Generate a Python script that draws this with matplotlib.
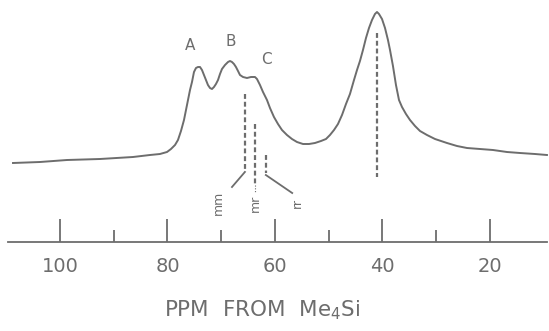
import matplotlib
matplotlib.use("Agg")
import matplotlib.pyplot as plt
import matplotlib.ticker as ticker

# 13C spectrum trace (ppm, relative intensity)
ppm = [108.74, 103.72, 98.70, 92.56, 86.42, 83.26, 81.40, 80.09, 79.35, 78.60,
       78.05, 77.49, 76.93, 76.37, 75.81, 75.44, 75.07, 74.70, 74.33, 73.95,
       73.58, 73.21, 72.84, 72.47, 72.09, 71.72, 71.35, 70.98, 70.60, 70.23,
       69.86, 69.30, 68.74, 68.37, 68.00, 67.63, 67.26, 66.88, 66.51, 65.95,
       65.21, 64.47, 63.72, 63.35, 62.79, 62.23, 61.49, 60.93, 60.19, 59.44,
       58.70, 57.77, 56.84, 55.91, 54.79, 53.67, 52.56, 51.44, 50.51, 49.77,
       49.02, 48.28, 47.53, 46.79, 46.05, 45.30, 44.74, 44.19, 43.63, 43.07,
       42.51, 41.95, 41.40, 41.02, 40.65, 40.09, 39.53, 38.98, 38.60, 38.05,
       37.49, 36.93, 36.37, 35.63, 34.88, 33.95, 33.02, 31.72, 30.23, 28.00,
       26.14, 24.28, 21.86, 19.44, 16.84, 14.42, 11.63, 9.40]
intensity = [0, 1, 3, 4, 6, 8, 9, 11, 14, 18,
             23, 32, 43, 58, 73, 81, 91, 95, 96, 96,
             93, 88, 83, 78, 75, 74, 76, 79, 83, 89,
             94, 98, 101, 102, 101, 99, 96, 92, 88, 86,
             85, 86, 86, 84, 78, 71, 63, 55, 46, 39,
             33, 28, 24, 21, 19, 19, 20, 22, 24, 28,
             33, 39, 48, 59, 69, 83, 93, 102, 113, 125,
             135, 143, 149, 151, 149, 144, 135, 123, 113, 97,
             78, 63, 56, 49, 43, 37, 32, 28, 24, 20,
             17, 15, 14, 13, 11, 10, 9, 8]

# peak assignments
peak_labels = ["A", "B", "C"]
peak_ppm = [75.8, 68.2, 61.5]
peak_y = [117, 122, 104]

# triad positions
triads = ["mm", "mr", "rr"]
triad_ppm = [65.6, 63.7, 61.7]
triad_top = [69, 39, 8]
triad_bottom = [-9, -22, -10]
triad_text_ppm = [70.6, 63.7, 55.9]

ch2_ppm = 41.0
ch2_top = 130
ch2_bottom = -14

major_ticks = [100, 80, 60, 40, 20]
minor_ticks = [90, 70, 50, 30]

ink = "#6d6d6d"

fig = plt.figure(figsize=(5.49, 3.31), dpi=100)
ax = fig.add_axes([0, 0, 1, 1])
ax.set_xlim(111.16, 9.02)
ax.set_ylim(-168, 163)

ax.plot(ppm, intensity, color=ink, lw=1.4, solid_joinstyle="round")

for lab, x, y in zip(peak_labels, peak_ppm, peak_y):
    ax.text(x, y, lab, ha="center", va="center", color=ink, fontsize=11,
            family="Liberation Sans Narrow")

dash = dict(color=ink, lw=1.6, dashes=(2.2, 1.3))
for x, top, bot in zip(triad_ppm, triad_top, triad_bottom):
    ax.plot([x, x], [top, bot], **dash)
ax.plot([ch2_ppm, ch2_ppm], [ch2_top, ch2_bottom], **dash)

# leader lines to the triad labels
ax.plot([triad_ppm[0], 68.0], [triad_bottom[0], -24], color=ink, lw=1.3)
ax.plot([triad_ppm[2], 56.8], [-12, -30], color=ink, lw=1.3)
ax.plot([triad_ppm[1], triad_ppm[1]], [triad_bottom[1], -30], color=ink,
        lw=0.8, dashes=(1, 1.5))

for lab, x in zip(triads, triad_text_ppm):
    ax.text(x, -40, lab, rotation=90, ha="center", va="center", color=ink,
            fontsize=9)

for s in ["top", "left", "right"]:
    ax.spines[s].set_visible(False)
ax.spines["bottom"].set_position(("data", -79))
ax.spines["bottom"].set_bounds(9.4, 109.7)
ax.spines["bottom"].set_color(ink)
ax.spines["bottom"].set_linewidth(1.3)

ax.xaxis.set_major_locator(ticker.FixedLocator(major_ticks))
ax.xaxis.set_minor_locator(ticker.FixedLocator(minor_ticks))
ax.tick_params(axis="x", which="major", direction="in", length=16.5,
               width=1.3, color=ink, labelcolor=ink, labelsize=14, pad=11)
ax.tick_params(axis="x", which="minor", direction="in", length=8.5,
               width=1.3, color=ink)
ax.set_yticks([])

fig.text(262 / 549, 1 - 310 / 331, "PPM  FROM  Me$_4$Si", ha="center",
         va="center", color=ink, fontsize=15.5)

fig.savefig("out.png", dpi=100, facecolor="white")
